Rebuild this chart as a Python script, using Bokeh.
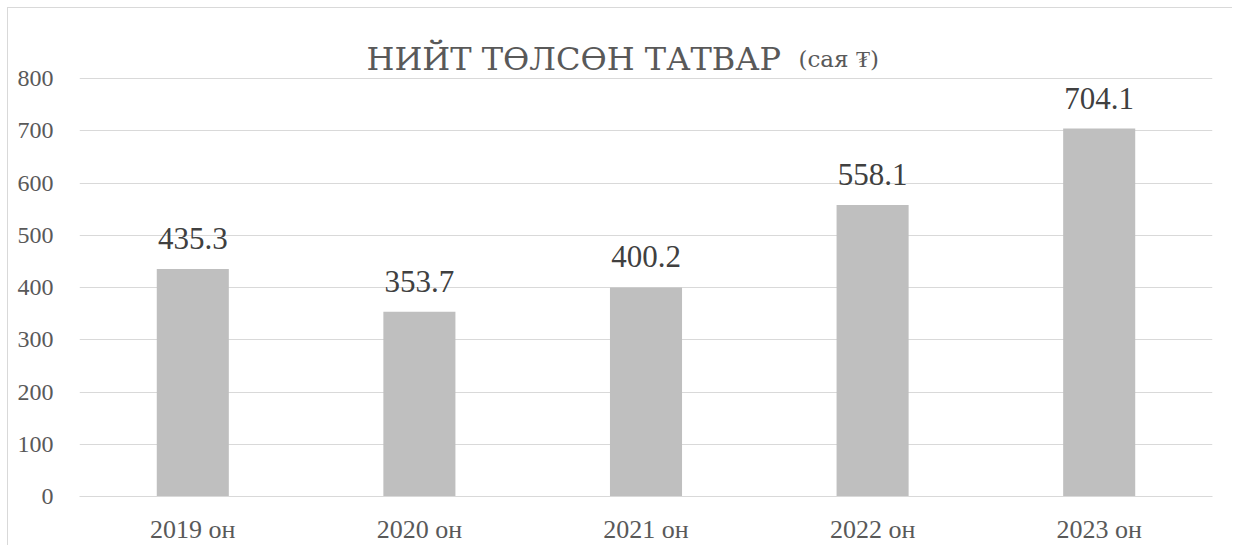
from bokeh.plotting import figure
from bokeh.models import ColumnDataSource, LabelSet, FixedTicker, Range1d
from bokeh.core.properties import value
from bokeh.embed import file_html
from bokeh.resources import INLINE

years = ["2019 он", "2020 он", "2021 он", "2022 он", "2023 он"]
taxes = [435.3, 353.7, 400.2, 558.1, 704.1]
labels = ["435.3", "353.7", "400.2", "558.1", "704.1"]
y_ticks = [0, 100, 200, 300, 400, 500, 600, 700, 800]
title_main = "НИЙТ ТӨЛСӨН ТАТВАР"
title_unit = "(сая ₮)"

FONT = "Liberation Serif"
CYR_FONT = "DejaVu Serif"
TXT = "#595959"
GRID = "#D9D9D9"

# pixel geometry of the plot frame (page coords)
FRAME_TOP_PX, Y0_PX, Y800_PX = 28, 496, 78
X_LEFT_PX, CAT_W_PX = 79, 226.6
PX_PER_UNIT = (Y0_PX - Y800_PX) / 800.0
y_top = (Y0_PX - FRAME_TOP_PX) / PX_PER_UNIT


def px_to_y(py):
    return (Y0_PX - py) / PX_PER_UNIT


def px_to_x(px):
    return (px - X_LEFT_PX) / CAT_W_PX


src = ColumnDataSource(dict(x=years, top=taxes, lab=labels))

p = figure(x_range=years, y_range=Range1d(0, y_top), width=1225, height=538,
           output_backend="svg", toolbar_location=None,
           min_border_left=71, min_border_right=21, min_border_top=FRAME_TOP_PX - 8,
           min_border_bottom=50)
p.styles = {"margin-left": "7px", "margin-top": "7px",
            "border-left": "1px solid #D9D9D9", "border-top": "1px solid #D9D9D9"}
p.outline_line_color = None
p.background_fill_color = "white"
p.border_fill_color = "white"

p.vbar(x="x", top="top", width=0.318, source=src, color="#BFBFBF", line_color=None)

p.yaxis.ticker = FixedTicker(ticks=y_ticks)
p.ygrid.grid_line_color = GRID
p.ygrid.grid_line_width = 1
p.xgrid.grid_line_color = None

for ax in (p.xaxis, p.yaxis):
    ax.major_tick_line_color = None
    ax.minor_tick_line_color = None
    ax.major_label_text_font = FONT
    ax.major_label_text_color = TXT
    ax.major_label_text_font_style = "normal"
p.yaxis.axis_line_color = None
p.xaxis.axis_line_color = GRID
p.yaxis.major_label_text_font_size = "24px"
p.xaxis.major_label_text_font_size = "26px"
p.yaxis.major_label_standoff = 20
p.xaxis.major_label_standoff = 12

ls = LabelSet(x="x", y="top", text="lab", source=src, text_align="center",
              text_baseline="alphabetic", y_offset=20, text_font=FONT,
              text_font_size="31px", text_color="#404040")
p.add_layout(ls)

# chart title (two sizes, as in the reference)
p.text(x=[px_to_x(366)], y=[px_to_y(58)], text=[title_main], text_font=value(CYR_FONT),
       text_font_size="32px", text_color=TXT, text_align="left", text_baseline="alphabetic")
p.text(x=[px_to_x(798)], y=[px_to_y(58)], text=[title_unit], text_font=value(CYR_FONT),
       text_font_size="23px", text_color=TXT, text_align="left", text_baseline="alphabetic")

open("out.html", "w").write(file_html(p, INLINE))
